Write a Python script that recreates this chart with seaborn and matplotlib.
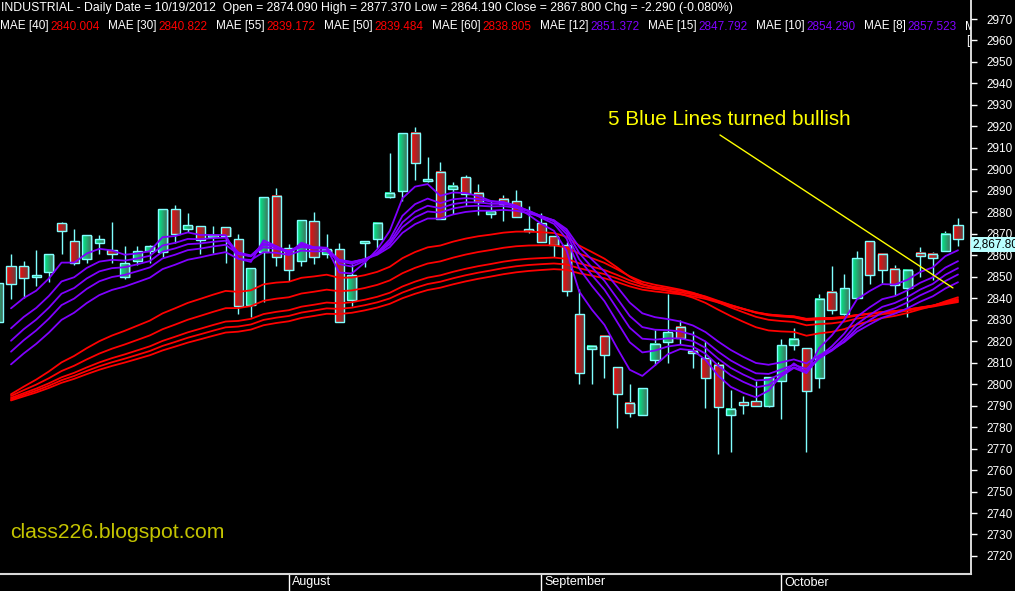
import matplotlib
matplotlib.use("Agg")
import matplotlib.pyplot as plt
import matplotlib.transforms as mtransforms
from matplotlib.patches import Rectangle
import numpy as np
import pandas as pd
import seaborn as sns

# INDUSTRIAL daily candles, early July 2012 .. 19 Oct 2012
opens = [2829.1, 2855.0, 2855.0, 2850.0, 2852.4, 2874.9, 2866.5, 2858.4, 2865.9, 2862.5,
         2850.0, 2857.5, 2862.1, 2861.7, 2881.4, 2872.4, 2873.5, 2868.5, 2873.0, 2867.4,
         2836.9, 2861.4, 2887.6, 2863.2, 2857.5, 2875.8, 2860.5, 2862.9, 2839.3, 2865.6,
         2867.4, 2887.0, 2890.1, 2916.8, 2894.7, 2898.9, 2890.7, 2896.3, 2888.9, 2879.1,
         2886.1, 2885.4, 2872.2, 2874.9, 2868.8, 2864.6, 2832.5, 2816.2, 2822.4, 2807.8,
         2791.1, 2785.7, 2811.1, 2819.8, 2826.5, 2815.4, 2812.0, 2808.9, 2785.5, 2791.5,
         2792.0, 2790.0, 2801.6, 2818.1, 2816.7, 2802.7, 2842.8, 2832.7, 2840.3, 2866.5,
         2860.5, 2853.5, 2844.6, 2861.0, 2860.5, 2861.9, 2874.09]
highs = [2847.5, 2860.5, 2857.3, 2862.5, 2860.5, 2875.6, 2872.1, 2869.3, 2869.4, 2875.6,
         2864.3, 2864.3, 2864.8, 2881.4, 2883.4, 2879.7, 2873.8, 2873.6, 2873.3, 2869.9,
         2853.9, 2887.0, 2891.2, 2865.1, 2876.3, 2880.1, 2869.9, 2865.6, 2855.8, 2866.5,
         2874.9, 2907.5, 2916.8, 2919.6, 2905.6, 2903.3, 2894.0, 2897.2, 2893.0, 2885.3,
         2888.1, 2890.4, 2882.9, 2879.5, 2868.8, 2866.3, 2844.3, 2817.8, 2822.4, 2807.8,
         2799.9, 2798.1, 2825.2, 2841.8, 2829.9, 2824.7, 2820.1, 2810.5, 2797.3, 2794.5,
         2801.5, 2803.2, 2821.0, 2826.0, 2816.7, 2841.8, 2855.0, 2851.3, 2862.0, 2866.5,
         2861.2, 2855.5, 2853.0, 2863.9, 2861.7, 2871.3, 2877.37]
lows = [2828.5, 2839.8, 2840.1, 2845.8, 2847.7, 2860.7, 2855.5, 2856.3, 2860.7, 2856.3,
        2848.9, 2855.5, 2856.3, 2859.3, 2865.6, 2871.0, 2860.7, 2861.2, 2856.6, 2832.5,
        2831.4, 2838.4, 2855.2, 2848.2, 2855.2, 2856.1, 2858.9, 2829.1, 2836.5, 2854.7,
        2863.2, 2886.8, 2885.4, 2895.0, 2894.3, 2876.8, 2879.2, 2883.1, 2878.8, 2877.5,
        2876.0, 2878.0, 2870.5, 2866.3, 2859.3, 2841.2, 2799.9, 2799.9, 2802.7, 2779.7,
        2784.9, 2785.7, 2808.8, 2809.7, 2818.6, 2807.4, 2788.8, 2767.3, 2768.6, 2786.0,
        2789.7, 2789.5, 2783.6, 2815.9, 2768.3, 2798.4, 2832.8, 2832.0, 2840.0, 2846.6,
        2847.2, 2841.5, 2831.1, 2850.0, 2848.6, 2861.9, 2864.19]
closes = [2847.0, 2846.8, 2849.6, 2850.4, 2860.5, 2871.4, 2856.6, 2869.3, 2867.4, 2860.7,
          2856.3, 2861.9, 2864.2, 2881.4, 2870.0, 2874.0, 2867.1, 2869.6, 2869.1, 2836.5,
          2853.9, 2887.0, 2859.0, 2853.3, 2876.3, 2859.3, 2862.8, 2829.1, 2850.7, 2866.5,
          2874.9, 2888.9, 2916.8, 2902.8, 2895.5, 2876.8, 2892.3, 2888.5, 2884.7, 2880.8,
          2883.7, 2878.0, 2871.4, 2866.3, 2864.9, 2843.5, 2805.3, 2817.8, 2813.4, 2795.3,
          2786.4, 2798.1, 2818.6, 2824.1, 2821.3, 2814.4, 2802.7, 2789.2, 2788.3, 2790.3,
          2789.7, 2803.2, 2818.1, 2821.0, 2796.7, 2839.5, 2834.4, 2844.6, 2858.6, 2851.0,
          2853.0, 2846.0, 2853.0, 2859.5, 2858.6, 2870.09, 2867.8]

# first candle of each month on the date axis
month_labels = ["August", "September", "October"]
month_starts = [23, 43, 62]

# exponential moving averages and the level each one starts at (candle 1)
red_periods = [30, 40, 50, 55, 60]
red_start = [2795.3, 2794.5, 2793.6, 2793.0, 2792.4]
blue_periods = [5, 8, 10, 12, 15]
blue_start = [2835.3, 2826.0, 2820.2, 2815.1, 2809.2]

# header legend, in on-screen order
legend_periods = [40, 30, 55, 50, 60, 12, 15, 10, 8]
legend_values = ["2840.004", "2840.822", "2839.172", "2839.484", "2838.805",
                 "2851.372", "2847.792", "2854.290", "2857.523"]

# hand drawn note
note_text = "5 Blue Lines turned bullish"
note_line_x = [57.15, 75.6]
note_line_y = [2916.0, 2844.8]

RED = "#ff0000"
BLUE = "#8000ff"
EDGE = "#80ffff"

sns.set_theme(style="dark", rc={"axes.facecolor": "black", "figure.facecolor": "black",
                                "savefig.facecolor": "black", "axes.grid": False})
plt.rcParams["font.family"] = ["Liberation Sans", "DejaVu Sans"]

W, H = 1015, 591
fig = plt.figure(figsize=(W / 100, H / 100), dpi=100)
ax = fig.add_axes([0, 17 / H, 971 / W, 574 / H])
ax.set_facecolor("black")


def ema(series, period, start):
    a = 2.0 / (period + 1)
    out = [start]
    for v in series[1:]:
        out.append(out[-1] + a * (v - out[-1]))
    return out


def gradient(c0, c1, n=32):
    t = np.linspace(0, 1, n)[None, :, None]
    return (np.array(c0)[None, None, :] * (1 - t) + np.array(c1)[None, None, :] * t) / 255.0


grad_up = gradient((0, 238, 140), (70, 105, 90))
grad_dn = gradient((245, 10, 10), (105, 62, 62))

idx = np.arange(len(closes))
bw = 0.72
dx, dy = 1 / 12.63, 1 / 2.148   # one pixel in data units

# wicks
ax.vlines(idx, lows, highs, color=EDGE, lw=1.0, zorder=1.5)

# bodies: shadow, gradient fill, cyan frame
for i, (o, c) in enumerate(zip(opens, closes)):
    lo, hi = min(o, c), max(o, c)
    if hi - lo < 0.9:
        mid = (lo + hi) / 2
        lo, hi = mid - 0.45, mid + 0.45
    x0 = i - bw / 2
    ax.add_patch(Rectangle((x0 + 1.5 * dx, lo - dy), bw, hi - lo, fc="#4a4a4a", ec="none", zorder=2))
    ax.imshow(grad_up if c >= o else grad_dn, extent=(x0, x0 + bw, lo, hi),
              aspect="auto", interpolation="bilinear", zorder=3)
    ax.add_patch(Rectangle((x0, lo), bw, hi - lo, fill=False, ec=EDGE, lw=1.0, zorder=3.5))

# moving averages
rows = []
for p, s in zip(red_periods + blue_periods, red_start + blue_start):
    for k, v in enumerate(ema(closes[1:], p, s)):
        rows.append((k + 1, v, f"MAE [{p}]"))
ma = pd.DataFrame(rows, columns=["idx", "value", "line"])
palette = {f"MAE [{p}]": RED for p in red_periods}
palette.update({f"MAE [{p}]": BLUE for p in blue_periods})
sns.lineplot(data=ma, x="idx", y="value", hue="line", palette=palette, legend=False,
             lw=1.3, ax=ax, zorder=5)

# note and its line
ax.plot(note_line_x, note_line_y, color="#ffff00", lw=1.0, zorder=6)
ax.text(48.3, 2923.4, note_text, color="#ffff00", fontsize=14.9, va="center", ha="left", zorder=6)

ax.set_xlim(0.129, 77.03)
ax.set_ylim(2711.6, 2978.85)
ax.set_xlabel("")
ax.set_ylabel("")

# axes
for s in ["left", "top"]:
    ax.spines[s].set_visible(False)
ax.spines["right"].set_color("white")
ax.spines["right"].set_linewidth(1.2)
ax.spines["bottom"].set_color("#d8d8d8")
ax.spines["bottom"].set_linewidth(1.5)

ax.yaxis.tick_right()
ax.set_yticks(np.arange(2720, 2971, 10))
ax.tick_params(axis="y", right=True, left=False, colors="white", labelsize=8.5,
               length=4.3, width=1, pad=6.5, direction="out")

ax.set_xticks(month_starts)
ax.set_xticklabels(month_labels)
ax.tick_params(axis="x", bottom=True, colors="white", length=12.3, width=1,
               pad=-10.5, labelsize=9, direction="out")
shift = mtransforms.ScaledTranslation(2 / 72, 0, fig.dpi_scale_trans)
for lab in ax.get_xticklabels():
    lab.set_horizontalalignment("left")
    lab.set_family(["Liberation Sans Narrow", "Liberation Sans"])
    lab.set_transform(lab.get_transform() + shift)

# last price tag on the price axis
ax.text(1.0015, closes[-1] + 0.2, f"{closes[-1]:,.2f}", transform=ax.get_yaxis_transform(),
        color="black", fontsize=8.5, va="top", ha="left", clip_on=False, zorder=10,
        bbox=dict(boxstyle="square,pad=0.12", fc="#b8ffff", ec="none"))

# header line
chg = closes[-1] - closes[-2]
header = (f"INDUSTRIAL - Daily Date = 10/19/2012  Open = {opens[-1]:.3f} High = {highs[-1]:.3f} "
          f"Low = {lows[-1]:.3f} Close = {closes[-1]:.3f} Chg = {chg:.3f} ({chg / closes[-2] * 100:.3f}%)")
ax.text(1 / 971, 1 - 8.5 / 574, header, transform=ax.transAxes, color="white",
        fontsize=8.85, va="center", ha="left", zorder=10)

# legend line
y_leg = 1 - 26.5 / 574
prev = None
for p, v in zip(legend_periods, legend_values):
    col = RED if p in red_periods else BLUE
    if prev is None:
        lab = ax.text(0, y_leg, f"MAE [{p}]", transform=ax.transAxes, color="white",
                      fontsize=8.5, va="center", ha="left", zorder=10)
    else:
        lab = ax.annotate(f"MAE [{p}]", xy=(1, 0.5), xycoords=prev, xytext=(6.0, 0),
                          textcoords="offset points", color="white", fontsize=8.5,
                          va="center", ha="left", zorder=10)
    prev = ax.annotate(v, xy=(1, 0.5), xycoords=lab, xytext=(1.4, 0), textcoords="offset points",
                       color=col, fontsize=8.5, va="center", ha="left", zorder=10)
ax.annotate("M", xy=(1, 0.5), xycoords=prev, xytext=(6.0, 0), textcoords="offset points",
            color="white", fontsize=8.5, va="center", ha="left", zorder=10, clip_on=True)
ax.text(966 / 971, 1 - 41 / 574, "[", transform=ax.transAxes, color="white", fontsize=8.5,
        va="center", ha="left", zorder=10, clip_on=True)

# watermark
ax.text(10 / 971, 1 - 533 / 574, "class226.blogspot.com", transform=ax.transAxes,
        color="#c4c400", fontsize=15.2, va="center", ha="left", zorder=10)

fig.savefig("out.png", dpi=100, facecolor="black")
